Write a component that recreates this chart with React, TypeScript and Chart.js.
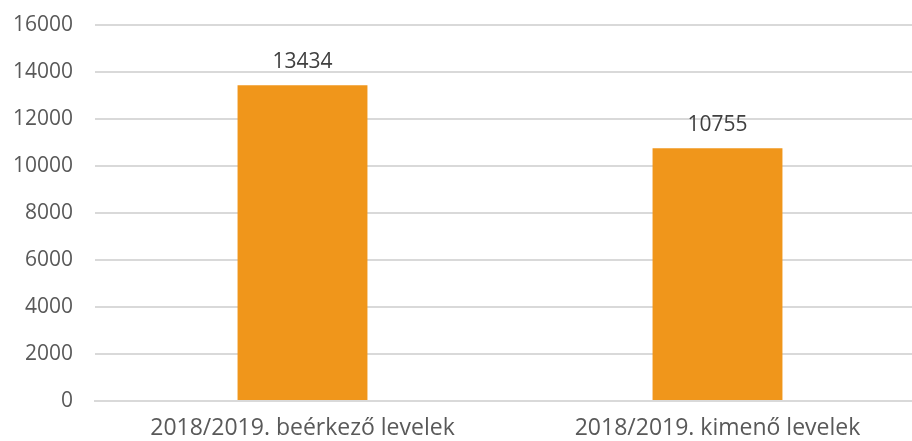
import React, { useEffect, useRef } from "react";
import { Chart, registerables } from "chart.js";

Chart.register(...registerables);

const categories = ["2018/2019. beérkező levelek", "2018/2019. kimenő levelek"];
const values = [13434, 10755];
const yMin = 0;
const yMax = 16000;
const yStep = 2000;

const FONT = "'Open Sans', sans-serif";

const valueLabels = {
  id: "valueLabels",
  afterDatasetsDraw(chart: any) {
    const { ctx } = chart;
    const meta = chart.getDatasetMeta(0);
    ctx.save();
    ctx.font = `21px ${FONT}`;
    ctx.fillStyle = "#404040";
    ctx.textAlign = "center";
    ctx.textBaseline = "bottom";
    meta.data.forEach((bar: any, i: number) => {
      ctx.fillText(String(values[i]), bar.x, bar.y - 13);
    });
    ctx.restore();
  },
};

export default function App() {
  const ref = useRef<HTMLCanvasElement | null>(null);
  useEffect(() => {
    if (!ref.current) return;
    const chart = new Chart(ref.current, {
      type: "bar",
      data: {
        labels: categories,
        datasets: [
          {
            data: values,
            backgroundColor: "#F0961B",
            borderWidth: 0,
            barPercentage: 0.313,
            categoryPercentage: 1,
          },
        ],
      },
      options: {
        animation: false,
        responsive: false,
        maintainAspectRatio: false,
        layout: { padding: { top: 25, right: 0, left: 0, bottom: 0 } },
        plugins: { legend: { display: false }, tooltip: { enabled: false } },
        scales: {
          x: {
            grid: { display: false },
            border: { display: true, color: "#D9D9D9", width: 2 },
            ticks: {
              color: "#595959",
              font: { family: FONT, size: 23 },
              padding: 6,
              maxRotation: 0,
            },
            afterFit(scale: any) {
              scale.height = 40;
            },
          },
          y: {
            min: yMin,
            max: yMax,
            grid: { color: "#D9D9D9", lineWidth: 2, drawTicks: false },
            border: { display: false },
            ticks: {
              stepSize: yStep,
              color: "#595959",
              font: { family: FONT, size: 21 },
              padding: 22,
              callback: (v: any) => String(v),
            },
            afterFit(scale: any) {
              scale.width = 95;
              scale.paddingTop = 0;
              scale.paddingBottom = 0;
            },
          },
        },
      },
      plugins: [valueLabels],
    });
    return () => chart.destroy();
  }, []);
  return (
    <div
      style={{
        position: "fixed",
        left: 0,
        top: 0,
        width: 912,
        height: 441,
        overflow: "hidden",
        background: "#fff",
      }}
    >
      <canvas ref={ref} width={925} height={441} style={{ display: "block" }} />
    </div>
  );
}
